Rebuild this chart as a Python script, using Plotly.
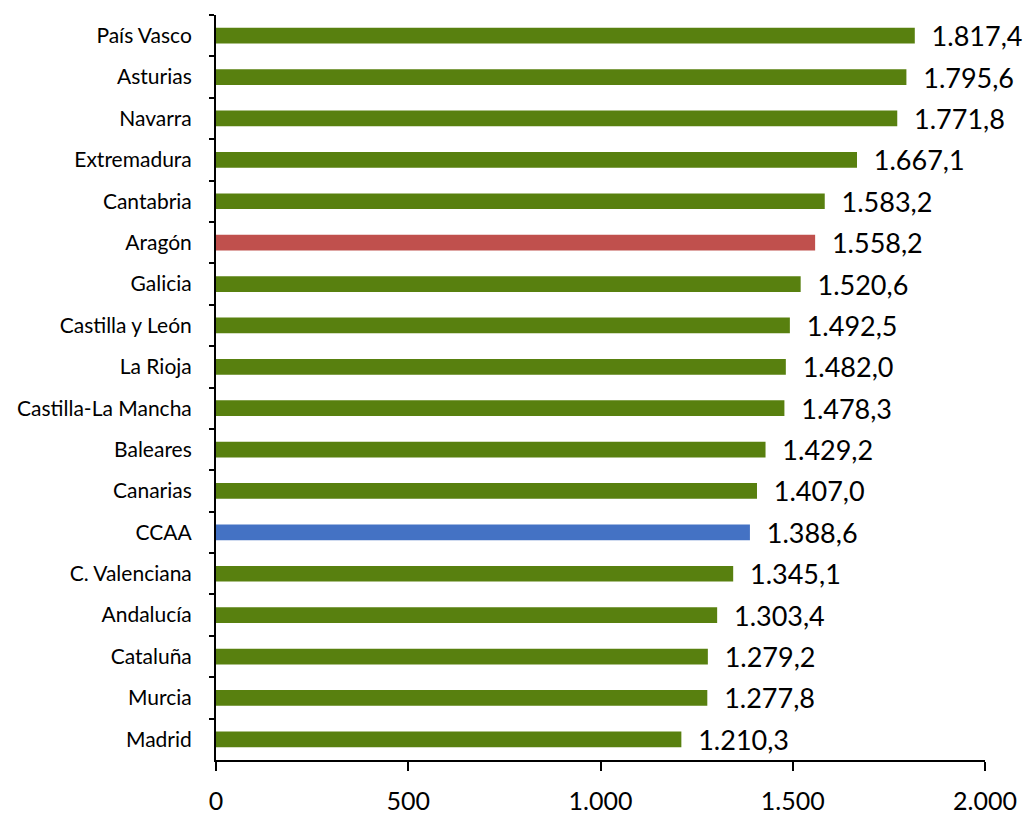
import plotly.graph_objects as go

# Comunidades autónomas, de arriba abajo
regiones = ["País Vasco", "Asturias", "Navarra", "Extremadura", "Cantabria",
            "Aragón", "Galicia", "Castilla y León", "La Rioja", "Castilla-La Mancha",
            "Baleares", "Canarias", "CCAA", "C. Valenciana", "Andalucía",
            "Cataluña", "Murcia", "Madrid"]
valores = [1817.4, 1795.6, 1771.8, 1667.1, 1583.2,
           1558.2, 1520.6, 1492.5, 1482.0, 1478.3,
           1429.2, 1407.0, 1388.6, 1345.1, 1303.4,
           1279.2, 1277.8, 1210.3]

verde = "#58800F"
colores = {"Aragón": "#C0504D", "CCAA": "#4472C4"}
color_barras = [colores.get(r, verde) for r in regiones]

fig = go.Figure(go.Bar(
    x=valores, y=regiones, orientation="h",
    marker=dict(color=color_barras, line=dict(width=0)),
    texttemplate="  %{x:,.1f}", textposition="outside", constraintext="none",
    textfont=dict(size=27, color="black"),
    cliponaxis=False, width=0.38,
))

fig.update_layout(
    width=1029, height=814,
    margin=dict(l=216, r=44, t=15, b=54),
    plot_bgcolor="white", paper_bgcolor="white",
    separators=",.",
    font=dict(family="Lato, Liberation Sans, sans-serif", color="black"),
    showlegend=False,
)
fig.update_xaxes(
    range=[0, 2000], tickvals=[0, 500, 1000, 1500, 2000], tickformat=",d",
    showgrid=False, zeroline=False, showline=True, linecolor="black", linewidth=2,
    ticks="outside", ticklen=9, tickwidth=2, tickcolor="black",
    tickfont=dict(size=25), ticklabelstandoff=9, automargin=False,
)
fig.update_yaxes(
    autorange="reversed", showgrid=False, showline=True, linecolor="black", linewidth=2,
    ticks="outside", tickson="boundaries", ticklen=5, tickwidth=2, tickcolor="black",
    tickfont=dict(size=21), ticklabelstandoff=18, automargin=False,
)

fig.write_html("out.html", config={"displayModeBar": False},
               post_script="document.body.style.margin='0';")
